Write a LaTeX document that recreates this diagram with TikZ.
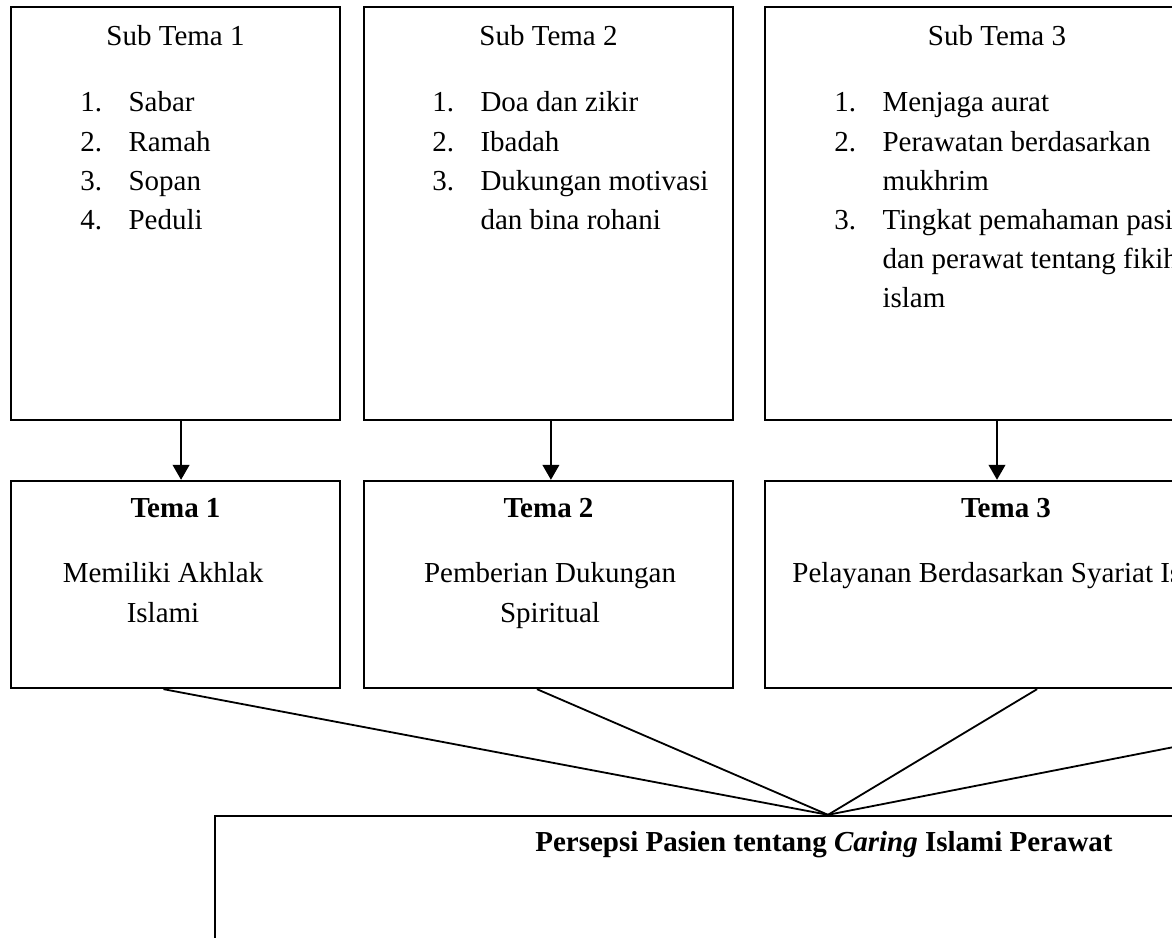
\documentclass[tikz,border=0pt]{standalone}
\usepackage{fontspec}
\setmainfont{Liberation Serif}
\usetikzlibrary{arrows.meta}

\tikzset{
  kotak/.style={draw, line width=0.95pt, inner sep=0pt},
  daftar/.style={anchor=base west, inner sep=0pt},
  judul/.style={anchor=base, inner sep=0pt},
  panah/.style={-{Triangle[width=6.8pt,length=6.2pt]}, line width=1.05pt},
  garis/.style={line width=0.75pt}
}

\begin{document}
\begin{tikzpicture}[x=0.414pt, y=-0.414pt, font=\fontsize{12}{16.15}\selectfont]

  % Bingkai gambar
  \useasboundingbox (0,0) rectangle (1172,938);
  \clip (0,0) rectangle (1172,938);

  % Kotak sub tema
  \node[kotak, minimum width=136.2pt, minimum height=171pt] (s1) at (175.5,213.5) {};
  \node[kotak, minimum width=152.8pt, minimum height=171pt] (s2) at (548.5,213.5) {};
  \node[kotak, minimum width=192.1pt, minimum height=171pt] (s3) at (997,213.5) {};

  \node[judul] (js1) at (175.5,46) {Sub Tema 1};
  \node[judul] (js2) at (548.5,46) {Sub Tema 2};
  \node[judul] (js3) at (997,46) {Sub Tema 3};

  \node[daftar] (d1) at (80,112) {\begin{tabular}[t]{@{}p{19.9pt}@{}l@{}}
    1. & Sabar\\ 2. & Ramah\\ 3. & Sopan\\ 4. & Peduli
  \end{tabular}};
  \node[daftar] (d2) at (432,112) {\begin{tabular}[t]{@{}p{19.9pt}@{}l@{}}
    1. & Doa dan zikir\\ 2. & Ibadah\\ 3. & Dukungan motivasi\\ & dan bina rohani
  \end{tabular}};
  \node[daftar] (d3) at (834,112) {\begin{tabular}[t]{@{}p{19.9pt}@{}l@{}}
    1. & Menjaga aurat\\ 2. & Perawatan berdasarkan\\ & mukhrim\\
    3. & Tingkat pemahaman pasien\\ & dan perawat tentang fikih\\ & islam
  \end{tabular}};

  % Kotak tema
  \node[kotak, minimum width=136.2pt, minimum height=85.7pt] (t1) at (175.5,584.5) {};
  \node[kotak, minimum width=152.8pt, minimum height=85.7pt] (t2) at (548.5,584.5) {};
  \node[kotak, minimum width=192.1pt, minimum height=85.7pt] (t3) at (997,584.5) {};

  \node[judul] (jt1) at (175.5,518) {\textbf{Tema 1}};
  \node[judul] (jt2) at (548.5,518) {\textbf{Tema 2}};
  \node[judul] (jt3) at (1006,518) {\textbf{Tema 3}};

  \node[judul] (n1) at (163,583) {\begin{tabular}[t]{@{}c@{}}Memiliki Akhlak\\ Islami\end{tabular}};
  \node[judul] (n2) at (550,583) {\begin{tabular}[t]{@{}c@{}}Pemberian Dukungan\\ Spiritual\end{tabular}};
  \node[daftar] (n3) at (792,583) {Pelayanan Berdasarkan Syariat Islam};

  % Panah sub tema ke tema
  \draw[panah] ([xshift=2.3pt]s1.south) -- ([xshift=2.3pt]t1.north);
  \draw[panah] ([xshift=1pt]s2.south) -- ([xshift=1pt]t2.north);
  \draw[panah] (s3.south) -- (t3.north);

  % Kotak persepsi
  \node[kotak, minimum width=507.6pt, minimum height=76.2pt] (p) at (828,908) {};
  \node[judul] (jp) at (824,852) {\textbf{Persepsi Pasien tentang \textit{Caring} Islami Perawat}};

  % Garis ke kotak persepsi
  \coordinate (c4) at (1475,688);
  \draw[garis] ([xshift=-5pt]t1.south) -- (p.north);
  \draw[garis] ([xshift=-4.8pt]t2.south) -- (p.north);
  \draw[garis] ([xshift=16.6pt]t3.south) -- (p.north);
  \draw[garis] (c4) -- (p.north);

\end{tikzpicture}
\end{document}
